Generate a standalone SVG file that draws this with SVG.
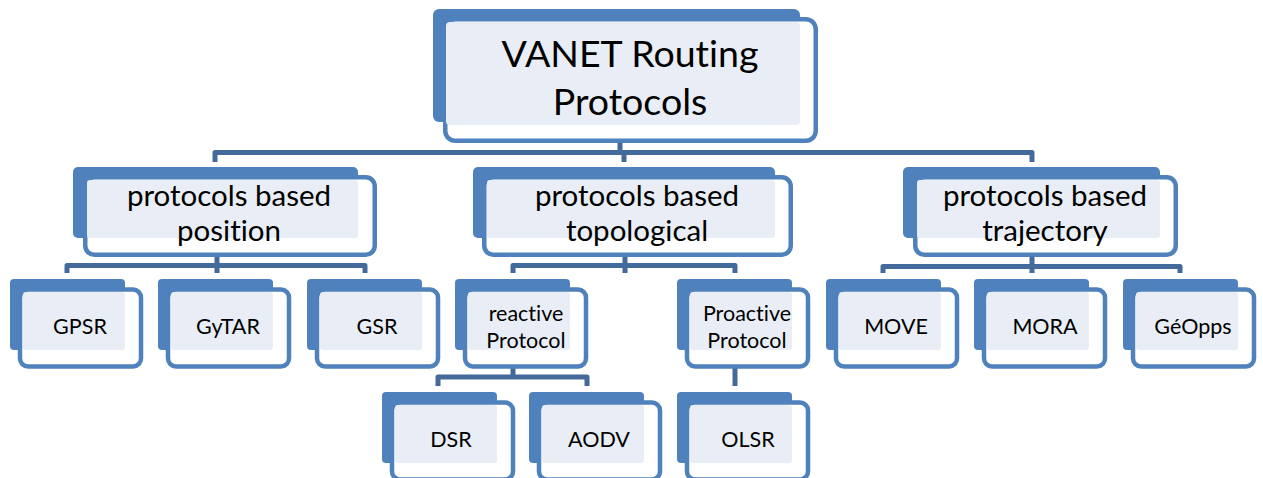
<svg xmlns="http://www.w3.org/2000/svg" width="1263" height="478" viewBox="0 0 1263 478">
<style>
.bk{fill:#4F81BD}
.fr{fill:#fff;stroke:#4F81BD;stroke-width:4.5}
.lt{fill:#E9EEF6}
.cn{fill:none;stroke:#44699B;stroke-width:5;stroke-linejoin:round}
.cl{fill:none;stroke:#E2E8F1;stroke-width:5}
text{font-family:Lato,"Liberation Sans",sans-serif;fill:#000;text-anchor:middle;font-variant-ligatures:none}
.t1{font-size:37.5px}
.t2{font-size:29.5px}
.t3{font-size:21.5px}
</style>
<rect width="1263" height="478" fill="#fff"/>
<g id="connectors">
<path class="cl" d="M618,126V141M216,239V253M624,238V253M1032,239V253M513,350V366M735,350V366"/>
<path class="cn" d="M620,143V152.5M215,162V152.5H1032V162M624,152.5V162"/>
<path class="cn" d="M217,257V265.5M67,273V265.5H365V273M217,265.5V273"/>
<path class="cn" d="M625,255V265.5M513,273V265.5H735V273M625,265.5V273"/>
<path class="cn" d="M1032,257V266.5M883,273V266.5H1180V273M1032,266.5V273"/>
<path class="cn" d="M513,368V377M438,386V377H587V386"/>
<path class="cn" d="M735,368V386"/>
</g>
<g id="root">
<rect class="bk" x="433" y="9" width="367" height="113" rx="6"/>
<rect class="fr" x="445.25" y="19.25" width="370.5" height="121.5" rx="10"/>
<rect class="lt" x="446" y="22" width="354" height="103" rx="4"/>
<text class="t1" x="630" y="67">VANET Routing</text>
<text class="t1" x="630" y="115">Protocols</text>
</g>
<g id="position">
<rect class="bk" x="73" y="167" width="285" height="71" rx="5"/>
<rect class="fr" x="85.25" y="177.25" width="289.5" height="77.5" rx="9"/>
<rect class="lt" x="87" y="180" width="271" height="58" rx="3"/>
<text class="t2" x="229" y="206">protocols based</text>
<text class="t2" x="229" y="241">position</text>
</g>
<g id="topological">
<rect class="bk" x="473" y="167" width="302" height="71" rx="5"/>
<rect class="fr" x="484.25" y="177.25" width="306.5" height="77.5" rx="9"/>
<rect class="lt" x="487" y="180" width="288" height="58" rx="3"/>
<text class="t2" x="637" y="206">protocols based</text>
<text class="t2" x="637" y="241">topological</text>
</g>
<g id="trajectory">
<rect class="bk" x="903" y="167" width="257" height="71" rx="5"/>
<rect class="fr" x="915.25" y="177.25" width="260.5" height="77.5" rx="9"/>
<rect class="lt" x="917" y="180" width="243" height="58" rx="3"/>
<text class="t2" x="1045" y="206">protocols based</text>
<text class="t2" x="1045" y="241">trajectory</text>
</g>
<g id="gpsr" transform="translate(10,279)">
<rect class="bk" width="115" height="71" rx="4"/><rect class="fr" x="10" y="10.5" width="121" height="77" rx="8"/><rect class="lt" x="13" y="13" width="102" height="58" rx="3"/>
<text class="t3" x="70" y="55">GPSR</text></g>
<g id="gytar" transform="translate(158,279)">
<rect class="bk" width="115" height="71" rx="4"/><rect class="fr" x="10" y="10.5" width="121" height="77" rx="8"/><rect class="lt" x="13" y="13" width="102" height="58" rx="3"/>
<text class="t3" x="70" y="55">GyTAR</text></g>
<g id="gsr" transform="translate(307,279)">
<rect class="bk" width="115" height="71" rx="4"/><rect class="fr" x="10" y="10.5" width="121" height="77" rx="8"/><rect class="lt" x="13" y="13" width="102" height="58" rx="3"/>
<text class="t3" x="70" y="55">GSR</text></g>
<g id="reactive" transform="translate(455,279)">
<rect class="bk" width="115" height="71" rx="4"/><rect class="fr" x="10" y="10.5" width="121" height="77" rx="8"/><rect class="lt" x="13" y="13" width="102" height="58" rx="3"/>
<text class="t3" x="71" y="42">reactive</text><text class="t3" x="71" y="69">Protocol</text></g>
<g id="proactive" transform="translate(677,279)">
<rect class="bk" width="115" height="71" rx="4"/><rect class="fr" x="10" y="10.5" width="121" height="77" rx="8"/><rect class="lt" x="13" y="13" width="102" height="58" rx="3"/>
<text class="t3" x="70" y="42">Proactive</text><text class="t3" x="70" y="69">Protocol</text></g>
<g id="move" transform="translate(826,279)">
<rect class="bk" width="115" height="71" rx="4"/><rect class="fr" x="10" y="10.5" width="121" height="77" rx="8"/><rect class="lt" x="13" y="13" width="102" height="58" rx="3"/>
<text class="t3" x="70" y="55">MOVE</text></g>
<g id="mora" transform="translate(974,279)">
<rect class="bk" width="115" height="71" rx="4"/><rect class="fr" x="10" y="10.5" width="121" height="77" rx="8"/><rect class="lt" x="13" y="13" width="102" height="58" rx="3"/>
<text class="t3" x="71" y="55">MORA</text></g>
<g id="geopps" transform="translate(1123,279)">
<rect class="bk" width="115" height="71" rx="4"/><rect class="fr" x="10" y="10.5" width="121" height="77" rx="8"/><rect class="lt" x="13" y="13" width="102" height="58" rx="3"/>
<text class="t3" x="70" y="55">GéOpps</text></g>
<g id="dsr" transform="translate(382,392)">
<rect class="bk" width="115" height="71" rx="4"/><rect class="fr" x="10" y="10.5" width="121" height="77" rx="8"/><rect class="lt" x="13" y="13" width="102" height="58" rx="3"/>
<text class="t3" x="69" y="55">DSR</text></g>
<g id="aodv" transform="translate(529,392)">
<rect class="bk" width="115" height="71" rx="4"/><rect class="fr" x="10" y="10.5" width="121" height="77" rx="8"/><rect class="lt" x="13" y="13" width="102" height="58" rx="3"/>
<text class="t3" x="70" y="55">AODV</text></g>
<g id="olsr" transform="translate(677,392)">
<rect class="bk" width="115" height="71" rx="4"/><rect class="fr" x="10" y="10.5" width="121" height="77" rx="8"/><rect class="lt" x="13" y="13" width="102" height="58" rx="3"/>
<text class="t3" x="71" y="55">OLSR</text></g>
</svg>
